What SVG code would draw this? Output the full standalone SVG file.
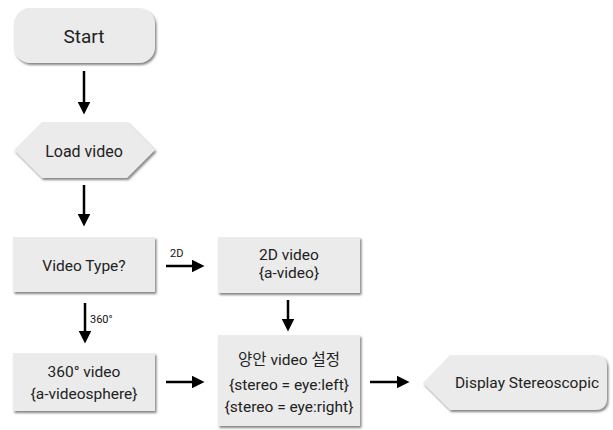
<svg xmlns="http://www.w3.org/2000/svg" width="613" height="430" viewBox="0 0 613 430">
<style>
.n{fill:#ebebeb;filter:url(#sh)}
.t{font-family:Roboto,"Noto Sans CJK KR",sans-serif;font-size:15.5px;fill:#222;text-anchor:middle;dominant-baseline:central}
.l{font-family:Roboto,sans-serif;font-size:11px;fill:#111}
.c{stroke:#000;stroke-width:2.5;fill:none;marker-end:url(#ah)}
</style>
<defs>
<filter id="sh" x="-10%" y="-10%" width="130%" height="140%">
<feDropShadow dx="1.5" dy="2" stdDeviation="1" flood-color="#666" flood-opacity="0.8"/>
</filter>
<marker id="ah" viewBox="0 0 10 10" refX="0" refY="5" markerWidth="5" markerHeight="5" markerUnits="strokeWidth" orient="auto">
<path d="M0,0 L10,5 L0,10 Z" fill="#000"/>
</marker>
</defs>
<rect width="613" height="430" fill="#fff"/>
<g id="start"><rect class="n" x="14" y="8" width="141" height="55" rx="16"/><text class="t" x="84" y="36" style="font-size:19px">Start</text></g>
<g id="load"><polygon class="n" points="14,150 42,122 127,122 155,150 127,178 42,178"/><text class="t" x="84" y="151" style="font-size:16px">Load video</text></g>
<g id="type"><rect class="n" x="13" y="237" width="142" height="55"/><text class="t" x="84" y="266">Video Type?</text></g>
<g id="v2d"><rect class="n" x="218" y="237" width="142" height="56"/><text class="t" x="289" y="255">2D video</text><text class="t" x="289" y="273">{a-video}</text></g>
<g id="v360"><rect class="n" x="13" y="353" width="142" height="58"/><text class="t" x="84" y="372">360° video</text><text class="t" x="84" y="394">{a-videosphere}</text></g>
<g id="stereo"><rect class="n" x="218" y="335" width="142" height="91"/><text class="t" x="289" y="360">양안 video 설정</text><text class="t" x="289" y="385">{stereo = eye:left}</text><text class="t" x="289" y="407">{stereo = eye:right}</text></g>
<g id="display"><path class="n" d="M423,383 L450,355 L595,355 Q607,355 607,367 L607,398 Q607,410 595,410 L450,410 Z"/><text class="t" x="527" y="383">Display Stereoscopic</text></g>
<g id="connectors">
<line class="c" x1="84" y1="71" x2="84" y2="102"/>
<line class="c" x1="84" y1="185" x2="84" y2="214"/>
<line class="c" x1="166" y1="266" x2="192" y2="266"/>
<text class="l" x="170" y="257">2D</text>
<line class="c" x1="85" y1="303" x2="85" y2="331"/>
<text class="l" x="90" y="323">360°</text>
<line class="c" x1="288" y1="300" x2="288" y2="319"/>
<line class="c" x1="166" y1="382" x2="192" y2="382"/>
<line class="c" x1="370" y1="382" x2="397" y2="382"/>
</g>
</svg>
